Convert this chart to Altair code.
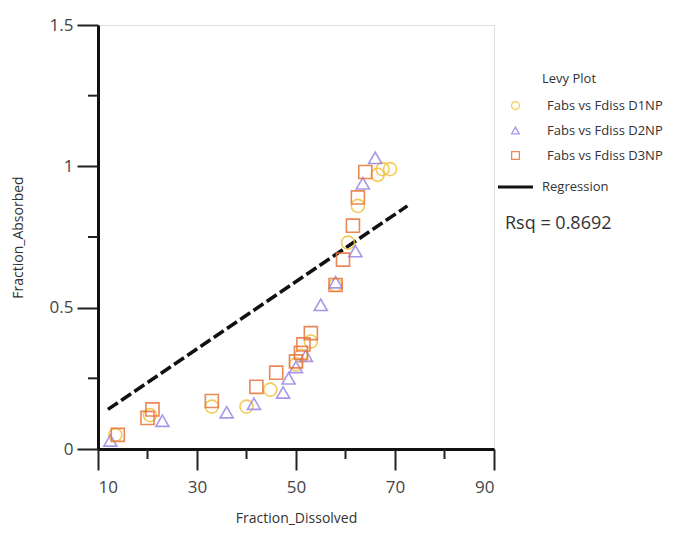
import altair as alt
import pandas as pd

# ---- data ----
series_names = ["Fabs vs Fdiss D1NP", "Fabs vs Fdiss D2NP", "Fabs vs Fdiss D3NP"]

d1_x = [13.5, 20.5, 33.0, 40.0, 44.8, 50.0, 51.0, 53.0, 58.0, 60.5, 62.5, 66.5, 67.5, 69.0]
d1_y = [0.05, 0.12, 0.15, 0.15, 0.21, 0.30, 0.33, 0.38, 0.58, 0.73, 0.86, 0.97, 0.99, 0.99]

d2_x = [12.5, 23.0, 36.0, 41.5, 47.4, 48.5, 50.0, 52.0, 55.0, 58.0, 62.0, 63.5, 66.0]
d2_y = [0.03, 0.10, 0.13, 0.16, 0.20, 0.25, 0.29, 0.33, 0.51, 0.59, 0.70, 0.94, 1.03]

d3_x = [14.0, 20.0, 21.0, 33.0, 42.0, 46.0, 50.0, 51.0, 51.5, 53.0, 58.0, 59.5, 61.5, 62.5, 64.0]
d3_y = [0.05, 0.11, 0.14, 0.17, 0.22, 0.27, 0.31, 0.34, 0.37, 0.41, 0.58, 0.67, 0.79, 0.89, 0.98]

reg_x = [12.0, 72.5]
reg_y = [0.14, 0.86]

x_ticks = [10, 30, 50, 70, 90]
x_minor = [20, 40, 60, 80]
y_ticks = [0, 0.5, 1, 1.5]
y_minor = [0.25, 0.75, 1.25]

legend_title = "Levy Plot"
reg_label = "Regression"
rsq_label = "Rsq = 0.8692"

colors = ["#F3C13A", "#9A86E6", "#E8743B"]
shapes = ["circle", "triangle-up", "square"]

FONT = "Open Sans"

rows = []
for name, xs, ys in zip(series_names, [d1_x, d2_x, d3_x], [d1_y, d2_y, d3_y]):
    for a, b in zip(xs, ys):
        rows.append({"series": name, "fdiss": a, "fabs": b})
pts = pd.DataFrame(rows)
reg = pd.DataFrame({"fdiss": reg_x, "fabs": reg_y})

xscale = alt.Scale(domain=[10, 90], nice=False, zero=False)
yscale = alt.Scale(domain=[0, 1.5], nice=False, zero=False)

xaxis = alt.Axis(values=x_ticks, tickSize=21, tickWidth=2, tickColor="#222",
                 domainColor="#111", domainWidth=3, grid=False,
                 labelFont=FONT, labelFontSize=17, labelColor="#444", labelPadding=9,
                 title="Fraction_Dissolved", titleFont=FONT, titleFontSize=14,
                 titleFontWeight="normal", titleColor="#333", titleY=69,
                 titleBaseline="middle")
yaxis = alt.Axis(values=y_ticks, format=".1~f", tickSize=21, tickWidth=2, tickColor="#222",
                 domainColor="#111", domainWidth=3, grid=False,
                 labelFont=FONT, labelFontSize=17, labelColor="#444", labelPadding=4,
                 title="Fraction_Absorbed", titleFont=FONT, titleFontSize=14,
                 titleFontWeight="normal", titleColor="#333", titleX=-80,
                 titleBaseline="middle", titleAngle=-90)

points = alt.Chart(pts).mark_point(filled=False, size=170, strokeWidth=1.6, opacity=0.85).encode(
    x=alt.X("fdiss:Q", scale=xscale, axis=xaxis),
    y=alt.Y("fabs:Q", scale=yscale, axis=yaxis),
    color=alt.Color("series:N", scale=alt.Scale(domain=series_names, range=colors),
                    legend=alt.Legend(title=None, orient="none", legendX=411, legendY=74,
                                      labelFont=FONT, labelFontSize=13, labelColor="#333",
                                      symbolSize=60, symbolStrokeWidth=1.3, rowPadding=11,
                                      labelOffset=25)),
    shape=alt.Shape("series:N", scale=alt.Scale(domain=series_names, range=shapes)),
)

line = alt.Chart(reg).mark_line(color="#111", strokeWidth=3.5, strokeDash=[12, 4]).encode(
    x=alt.X("fdiss:Q", scale=xscale), y=alt.Y("fabs:Q", scale=yscale))

xm = alt.Chart(pd.DataFrame({"v": x_minor})).mark_rule(color="#222", strokeWidth=2).encode(
    x=alt.X("v:Q", scale=xscale), y=alt.value(424), y2=alt.value(434))
ym = alt.Chart(pd.DataFrame({"v": y_minor})).mark_rule(color="#222", strokeWidth=2).encode(
    y=alt.Y("v:Q", scale=yscale), x=alt.value(0), x2=alt.value(-10))

title_txt = alt.Chart(pd.DataFrame({"t": [legend_title]})).mark_text(
    font=FONT, fontSize=13, color="#333", align="left", baseline="middle").encode(
    text="t:N", x=alt.value(444), y=alt.value(54))

reg_rule = alt.Chart(pd.DataFrame({"t": [reg_label]})).mark_rule(color="#111", strokeWidth=3).encode(
    x=alt.value(400), x2=alt.value(435), y=alt.value(162))
reg_txt = alt.Chart(pd.DataFrame({"t": [reg_label]})).mark_text(
    font=FONT, fontSize=13, color="#333", align="left", baseline="middle").encode(
    text="t:N", x=alt.value(444), y=alt.value(162))
rsq_txt = alt.Chart(pd.DataFrame({"t": [rsq_label]})).mark_text(
    font=FONT, fontSize=18, color="#333", align="left", baseline="middle").encode(
    text="t:N", x=alt.value(407), y=alt.value(199))

chart = alt.layer(line, points, xm, ym, title_txt, reg_rule, reg_txt, rsq_txt).properties(
    width=396, height=424,
    autosize=alt.AutoSizeParams(type="none"),
    padding={"left": 90, "top": 17, "right": 194, "bottom": 82},
).configure_view(stroke=None).configure(background="white")

chart.save("out.html", embed_options={"renderer": "svg", "actions": False})
